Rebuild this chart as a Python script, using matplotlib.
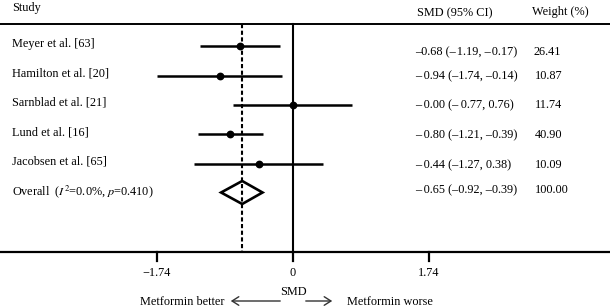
import matplotlib
matplotlib.use('Agg')
import matplotlib.pyplot as plt
from matplotlib.patches import Polygon

plt.rcParams.update({
    'font.family': ['Liberation Serif', 'DejaVu Serif'],
    'mathtext.fontset': 'stix',
    'font.size': 8.8,
})

# ── Dados ─────────────────────────────────────────────────────────────────────
studies = ['Meyer et al. [63]', 'Hamilton et al. [20]', 'Sarnblad et al. [21]',
           'Lund et al. [16]', 'Jacobsen et al. [65]']
smd = [-0.68, -0.94, -0.00, -0.80, -0.44]
ci_lo = [-1.19, -1.74, -0.77, -1.21, -1.27]
ci_hi = [-0.17, -0.14, 0.76, -0.39, 0.38]
ci_txt = ['\u20130.68 (\u2013\u200a1.19, \u2013\u200a0.17)',
          '\u2013\u20090.94 (\u20131.74, \u20130.14)',
          '\u2013\u20090.00 (\u2013\u20090.77, 0.76)',
          '\u2013\u20090.80 (\u20131.21, \u20130.39)',
          '\u2013\u20090.44 (\u20131.27, 0.38)']
weights = ['26.41', '10.87', '11.74', '40.90', '10.09']

overall = -0.65
overall_lo, overall_hi = -0.92, -0.39
overall_label = 'Overall  ($I^2$=0.0%, $p$=0.410)'
overall_txt = '\u2013\u20090.65 (\u20130.92, \u20130.39)'
overall_w = '100.00'

ticks = [-1.74, 0, 1.74]
tick_labels = ['\u22121.74', '0', '1.74']

# ── Layout (pixels) ───────────────────────────────────────────────────────────
W, H = 610, 307
X0 = 293          # pixel de SMD = 0
SCALE = 78.16     # pixels por unidade
rows = [46, 75.5, 105, 134.3, 163.5, 192.5]
TOP, BOT = 24, 251.5


def fx(px):
    return px / W


def fy(py):
    return 1 - py / H


fig = plt.figure(figsize=(6.1, 3.07), dpi=100)
ax = fig.add_axes([0, 0, 1, 1])
ax.set_xlim(-X0 / SCALE, (W - X0) / SCALE)
ax.set_ylim(H, 0)
ax.axis('off')

# linhas de topo e de base
ax.axhline(TOP, color='black', lw=1.4)
ax.axhline(BOT, color='black', lw=1.6)

# linha do zero e linha do efeito global
ax.plot([0, 0], [TOP, BOT], color='black', lw=1.5)
ax.plot([overall, overall], [TOP, BOT], color='black', lw=1.5,
        dashes=(2.0, 1.2))

# estudos
for i in range(len(studies)):
    y = rows[i]
    ax.plot([ci_lo[i], ci_hi[i]], [y, y], color='black', lw=1.8,
            solid_capstyle='butt')
    ax.plot(smd[i], y, 'o', color='black', markersize=4.6)

# diamante
yd = rows[-1]
diamond = Polygon([(overall_lo, yd), (overall, yd - 11.5),
                   (overall_hi, yd), (overall, yd + 11.5)],
                  closed=True, facecolor='white', edgecolor='black', lw=1.9)
ax.add_patch(diamond)

# ticks do eixo
for t in ticks:
    ax.plot([t, t], [BOT, 261], color='black', lw=1.6)
for t, lab in zip(ticks, tick_labels):
    ax.text(t, 273, lab, ha='center', va='center')

# cabecalho
fig.text(fx(12), fy(8), 'Study', ha='left', va='center')
fig.text(fx(417), fy(13), 'SMD (95% CI)', ha='left', va='center')
fig.text(fx(532), fy(12), 'Weight (%)', ha='left', va='center')

# colunas de texto
text_rows = [52, 76, 105, 135, 165, 190]
for i in range(len(studies)):
    fig.text(fx(12), fy(rows[i] - 2), studies[i], ha='left', va='center')
    fig.text(fx(415), fy(text_rows[i]), ci_txt[i], ha='left', va='center')
    fig.text(fx(535 if i else 533), fy(text_rows[i]), weights[i],
             ha='left', va='center')
fig.text(fx(12), fy(rows[-1] - 1), overall_label, ha='left', va='center')
fig.text(fx(415), fy(text_rows[-1]), overall_txt, ha='left', va='center')
fig.text(fx(535), fy(text_rows[-1]), overall_w, ha='left', va='center')

# rotulo do eixo e setas
fig.text(fx(X0), fy(292), 'SMD', ha='center', va='center')
fig.text(fx(225), fy(302), 'Metformin better', ha='right', va='center')
fig.text(fx(347), fy(302), 'Metformin worse', ha='left', va='center')
arrow = dict(arrowstyle='->,head_length=0.55,head_width=0.35', color='#333333', lw=1.0)
ax.annotate('', xy=((228 - X0) / SCALE, 301), xytext=((283 - X0) / SCALE, 301),
            arrowprops=arrow)
ax.annotate('', xy=((335 - X0) / SCALE, 301), xytext=((303 - X0) / SCALE, 301),
            arrowprops=arrow)

fig.savefig('out.png', dpi=100)
